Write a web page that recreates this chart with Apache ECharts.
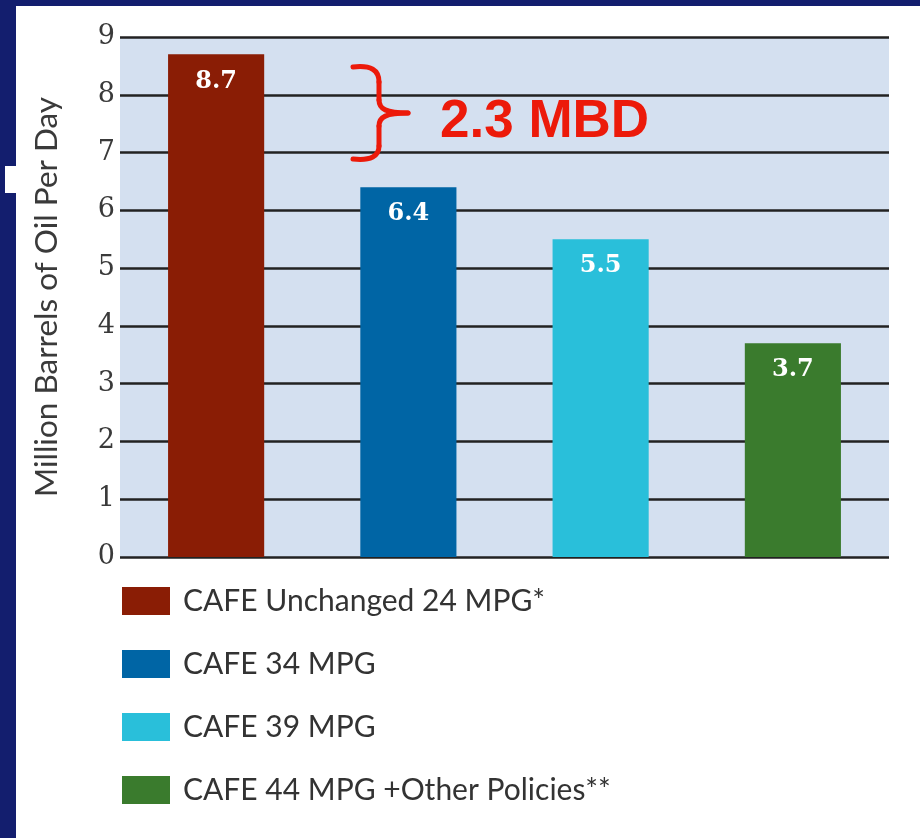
<!DOCTYPE html>
<html>
<head>
<meta charset="utf-8">
<script src="https://cdn.jsdelivr.net/npm/echarts@6/dist/echarts.min.js"></script>
<style>
  html, body { margin: 0; padding: 0; background: #131e6e; }
  #chart { width: 920px; height: 838px; }
</style>
</head>
<body>
<div id="chart"></div>
<script>
// Projected oil use under different fuel-economy standards
const scenarios = ['CAFE Unchanged 24 MPG*', 'CAFE 34 MPG', 'CAFE 39 MPG', 'CAFE 44 MPG +Other Policies**'];
const oilUse = [8.7, 6.4, 5.5, 3.7];            // million barrels per day
const barColors = ['#8a1d05', '#0065a5', '#29bfda', '#3a7b2d'];
const yTicks = [0, 1, 2, 3, 4, 5, 6, 7, 8, 9];
const yAxisTitle = 'Million Barrels of Oil Per Day';

// Savings between the baseline and the 34 MPG standard
const savings = (oilUse[0] - oilUse[1]).toFixed(1) + ' MBD';

const chart = echarts.init(document.getElementById('chart'), null, { renderer: 'canvas' });

// One series per scenario so each gets its own legend entry;
// stacking keeps every bar centred on its category.
const series = scenarios.map((name, i) => ({
  name: name,
  type: 'bar',
  stack: 'all',
  barWidth: '50%',
  itemStyle: { color: barColors[i] },
  data: oilUse.map((v, j) => (j === i ? v : '-')),
  label: {
    show: true,
    position: 'insideTop',
    distance: 15,
    color: '#ffffff',
    fontFamily: 'DejaVu Serif',
    fontWeight: 'bold',
    fontSize: 24,
    formatter: p => Number(p.value).toFixed(1)
  },
  emphasis: { disabled: true }
}));

// Curly brace drawn from curve and line pieces
const braceStyle = { stroke: '#ec1a0a', lineWidth: 5, fill: null, lineCap: 'round' };
const curve = (x1, y1, cpx1, cpy1, cpx2, cpy2, x2, y2) => ({
  type: 'bezierCurve', z: 10,
  shape: { x1, y1, cpx1, cpy1, cpx2, cpy2, x2, y2 },
  style: braceStyle
});
const segment = (x1, y1, x2, y2) => ({
  type: 'line', z: 10,
  shape: { x1, y1, x2, y2 },
  style: braceStyle
});

chart.setOption({
  backgroundColor: 'transparent',
  animation: false,
  graphic: [
    // white page panel
    { type: 'rect', z: -10, shape: { x: 16, y: 6, width: 904, height: 832 }, style: { fill: '#ffffff' } },
    { type: 'rect', z: -10, shape: { x: 5, y: 166, width: 12, height: 27 }, style: { fill: '#ffffff' } },
    curve(353, 67, 371, 65, 379, 70, 379, 82),
    segment(379, 82, 379, 100),
    curve(379, 100, 379, 109, 386, 113, 408, 113),
    curve(408, 113, 386, 113, 379, 117, 379, 126),
    segment(379, 126, 379, 146),
    curve(379, 146, 379, 156, 371, 161, 353, 159),
    {
      type: 'text', z: 10, left: 440, top: 96,
      style: {
        text: savings,
        fill: '#ec1a0a',
        font: 'bold 53px "Liberation Sans", Arial, sans-serif'
      }
    }
  ],
  grid: {
    left: 120, right: 31, top: 37, bottom: 281,
    show: true, backgroundColor: '#d4e0f0', borderWidth: 0
  },
  legend: {
    orient: 'vertical',
    left: 122, top: 586,
    padding: 0,
    itemWidth: 48, itemHeight: 28, itemGap: 33,
    icon: 'rect',
    selectedMode: false,
    data: scenarios,
    textStyle: {
      color: '#333333', fontFamily: 'Lato', fontSize: 30,
      lineHeight: 28, padding: [0, 0, 0, 8]
    }
  },
  xAxis: {
    type: 'category',
    data: scenarios,
    axisLine: { show: false },
    axisTick: { show: false },
    axisLabel: { show: false },
    splitLine: { show: false }
  },
  yAxis: {
    type: 'value',
    min: yTicks[0], max: yTicks[yTicks.length - 1], interval: 1,
    name: yAxisTitle,
    nameLocation: 'middle',
    nameGap: 57,
    nameTextStyle: { color: '#3a3a3a', fontFamily: 'Lato', fontSize: 31.5 },
    axisLine: { show: false },
    axisTick: { show: false },
    axisLabel: {
      color: '#3a3a3a', fontFamily: 'DejaVu Serif', fontSize: 27, margin: 5,
      formatter: v => (yTicks.includes(v) ? String(v) : '')
    },
    splitLine: { show: true, lineStyle: { color: '#222222', width: 2.5 } }
  },
  series: series
});
</script>
</body>
</html>
